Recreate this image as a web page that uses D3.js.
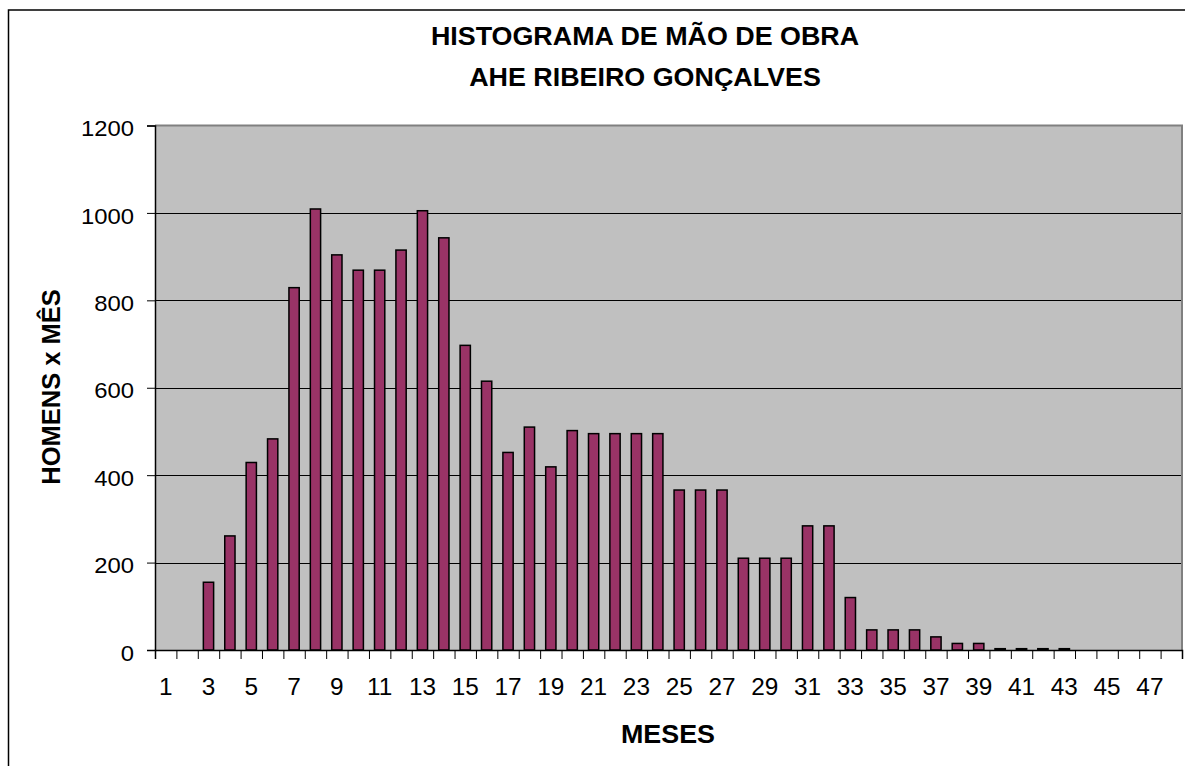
<!DOCTYPE html>
<html>
<head>
<meta charset="utf-8">
<script src="https://cdn.jsdelivr.net/npm/d3@7"></script>
<style>
  body { margin: 0; background: #fff; }
  svg { display: block; font-family: Arial, "Liberation Sans", sans-serif; }
</style>
</head>
<body>
<svg id="chart" width="1185" height="766"></svg>
<script>
const titleLines = ["HISTOGRAMA DE MÃO DE OBRA", "AHE RIBEIRO GONÇALVES"];
const xTitle = "MESES";
const yTitle = "HOMENS x MÊS";
const months = d3.range(1, 49);
const workers = [0, 0, 155, 261, 429, 483, 829, 1009, 904, 869, 869, 915, 1005, 943, 697, 615,
                 452, 510, 419, 502, 495, 495, 495, 495, 366, 366, 366, 210, 210, 210, 284, 284,
                 120, 46, 46, 46, 30, 15, 15, 3, 3, 3, 3, 0, 0, 0, 0, 0];
const yTicks = [0, 200, 400, 600, 800, 1000, 1200];
const xTickLabels = months.filter(m => m % 2 === 1);

const svg = d3.select("#chart");
const plot = { left: 155, right: 1182, top: 125.5, bottom: 650 };
const FONT = "Arial, 'Liberation Sans', sans-serif";
const SX = 1.075; // horizontal stretch of the reference text

// outer chart frame
svg.append("rect").attr("x", 8.5).attr("y", 10).attr("width", 1190).attr("height", 780)
  .attr("fill", "#fff").attr("stroke", "#000").attr("stroke-width", 1.5);

const x = d3.scaleBand().domain(months).range([plot.left, plot.right])
  .paddingInner(0.52).paddingOuter(0.26);
const xEdges = d3.scaleLinear().domain([0, months.length]).range([plot.left, plot.right]);
const y = d3.scaleLinear().domain([0, 1200]).range([plot.bottom, plot.top]);

// plot background
svg.append("rect").attr("x", plot.left).attr("y", plot.top)
  .attr("width", plot.right - plot.left).attr("height", plot.bottom - plot.top)
  .attr("fill", "#C0C0C0");

// gridlines
svg.append("g").selectAll("line").data(yTicks.filter(t => t > 0 && t < 1200)).join("line")
  .attr("x1", plot.left).attr("x2", plot.right)
  .attr("y1", d => Math.round(y(d)) + 0.5).attr("y2", d => Math.round(y(d)) + 0.5)
  .attr("stroke", "#000").attr("stroke-width", 1);

// plot border (top/right grey)
svg.append("path")
  .attr("d", `M${plot.left},${plot.top}H${plot.right}V${plot.bottom}`)
  .attr("fill", "none").attr("stroke", "#808080").attr("stroke-width", 2);

// bars
svg.append("g").selectAll("rect").data(months.map((m, i) => ({ m, v: workers[i] })).filter(d => d.v > 0))
  .join("rect")
  .attr("x", d => x(d.m)).attr("width", x.bandwidth())
  .attr("y", d => y(d.v)).attr("height", d => y(0) - y(d.v))
  .attr("fill", "#993366").attr("stroke", "#000").attr("stroke-width", 1.5);

// y axis
const yAxis = svg.append("g").attr("transform", `translate(${plot.left},0)`)
  .call(d3.axisLeft(y).tickValues(yTicks).tickSize(8).tickPadding(13).tickFormat(d3.format("d")));
yAxis.select(".domain").attr("stroke", "#000").attr("stroke-width", 1.5);
yAxis.selectAll(".tick line").attr("stroke", "#000");
yAxis.selectAll("text").attr("font-size", 22.5).attr("fill", "#000")
  .attr("font-family", FONT).attr("dy", "0.45em")
  .attr("x", 0).attr("transform", `translate(-21,0) scale(1.06,1)`);

// x axis tick marks at category edges
const xTickAxis = svg.append("g").attr("transform", `translate(0,${plot.bottom})`)
  .call(d3.axisBottom(xEdges).tickValues(d3.range(0, months.length + 1)).tickSize(9).tickFormat(""));
xTickAxis.select(".domain").attr("stroke", "#000").attr("stroke-width", 1.5);
xTickAxis.selectAll(".tick line").attr("stroke", "#000");

// x axis labels
const xAxis = svg.append("g").attr("transform", `translate(0,${plot.bottom})`)
  .call(d3.axisBottom(x).tickValues(xTickLabels).tickSize(0).tickPadding(29));
xAxis.select(".domain").remove();
xAxis.selectAll("text").attr("font-size", 23).attr("fill", "#000")
  .attr("font-family", FONT).attr("transform", "scale(1.06,1)");

// titles
svg.append("g").selectAll("text").data(titleLines).join("text")
  .attr("transform", (d, i) => `translate(645,${45 + i * 41}) scale(${SX},1)`)
  .attr("text-anchor", "middle").attr("font-weight", "bold").attr("font-size", 25)
  .text(d => d);

svg.append("text").attr("transform", `translate(668,743) scale(${SX},1)`)
  .attr("text-anchor", "middle").attr("font-weight", "bold").attr("font-size", 25)
  .text(xTitle);

svg.append("text").attr("transform", "translate(60,387) rotate(-90)")
  .attr("text-anchor", "middle").attr("font-weight", "bold").attr("font-size", 25.5)
  .text(yTitle);
</script>
</body>
</html>
